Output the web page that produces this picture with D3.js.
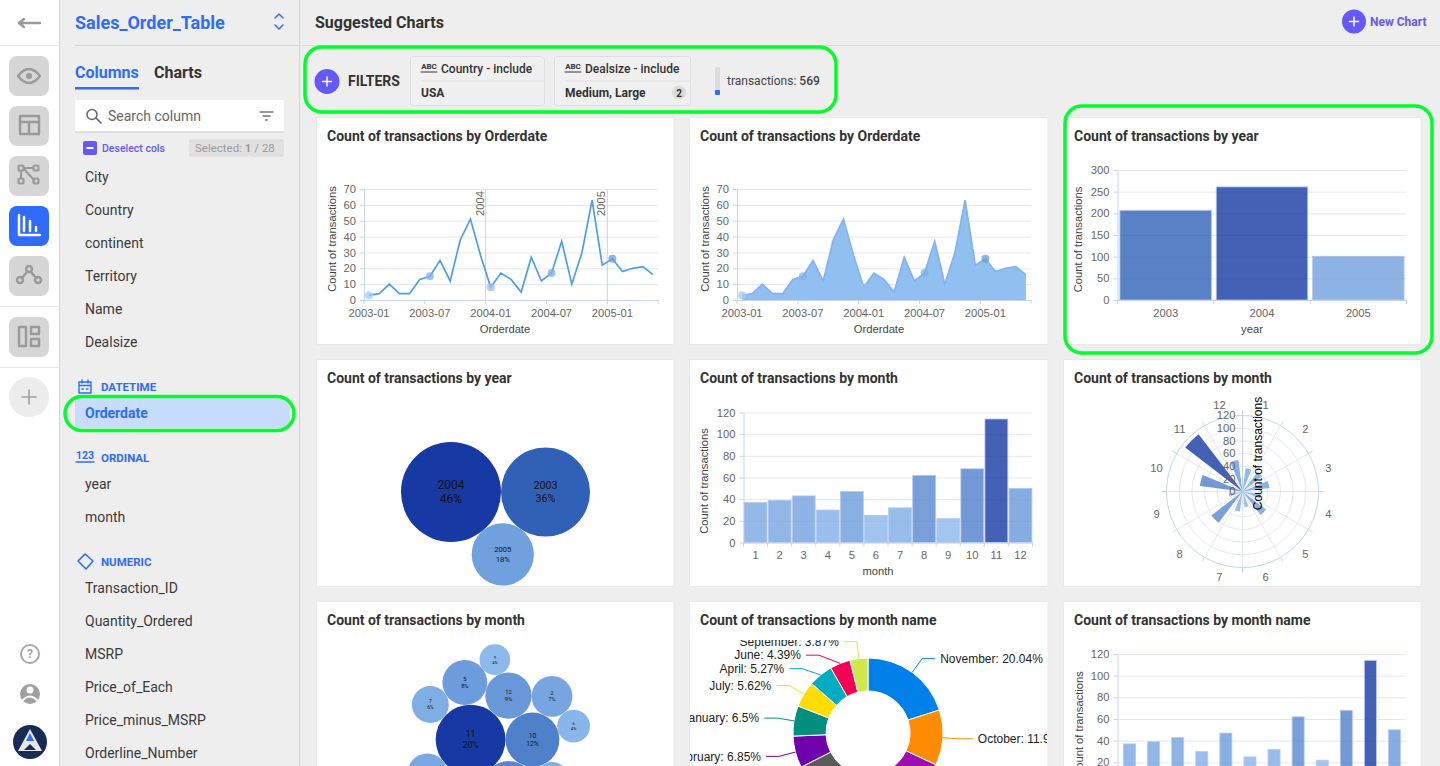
<!DOCTYPE html>
<html>
<head>
<meta charset="utf-8">
<title>Suggested Charts</title>
<script src="https://cdnjs.cloudflare.com/ajax/libs/d3/7.8.5/d3.min.js"></script>
<style>
  html, body { margin: 0; padding: 0; background: #eeeeee; overflow: hidden; }
  svg { display: block; }
  text { font-family: Roboto, sans-serif; }
  .chart text { font-family: "Liberation Sans", Arial, sans-serif; }
  .chart .title { font-family: Roboto, sans-serif; font-weight: 700; font-size: 14px; fill: #333; }
</style>
</head>
<body>
<script>
var WIDTH = 1440;
var HEIGHT = 766;
var BLUE = '#2f6bff';
var PURPLE = '#6458ff';
var GREEN = '#00ff2a';
var AXIS = '#c5d3ee';
var GRID = '#e4e7ee';

// chart values
var orderdates = ['2003-01','2003-02','2003-03','2003-04','2003-05','2003-06','2003-07','2003-08','2003-09','2003-10','2003-11','2003-12',
  '2004-01','2004-02','2004-03','2004-04','2004-05','2004-06','2004-07','2004-08','2004-09','2004-10','2004-11','2004-12',
  '2005-01','2005-02','2005-03','2005-04','2005-05'];
var orderdateCounts = [3,4,10,4,4,13,15,25,12,38,51,28,8,17,13,5,27,12,17,37,10,30,63,22,26,18,20,21,16];
var years = ['2003','2004','2005'];
var yearCounts = [207,261,101];
var yearPackOrder = [1,0,2];
var months = ['1','2','3','4','5','6','7','8','9','10','11','12'];
var monthCounts = [37,39,43,30,47,25,32,62,22,68,114,50];
var monthPackOrder = [10,9,11,7,4,2,1,3,6,0,8,5];
var monthNames = ['January','February','March','April','May','June','July','August','September','October','November','December'];
var monthColors = ['#008f7e','#6f00ab','#5a5a5a','#00acc1','#4caf50','#f50057','#ffdd00','#9c0fae','#d0e84b','#ff8c00','#0080e8','#e65100'];
var lineTicks = [0,10,20,30,40,50,60,70];
var yearTicks = [0,50,100,150,200,250,300];
var monthTicks = [0,20,40,60,80,100,120];

// sidebar text
var dimensionCols = ['City','Country','continent','Territory','Name','Dealsize'];
var ordinalCols = ['year','month'];
var numericCols = ['Transaction_ID','Quantity_Ordered','MSRP','Price_of_Each','Price_minus_MSRP','Orderline_Number'];

var heat = d3.scaleLinear().domain([0, 0.4, 0.8, 1]).range(['#a8d0fa', '#6e9edd', '#2f60b6', '#1739a3']);

var svg = d3.select('body').append('svg')
  .attr('width', WIDTH)
  .attr('height', HEIGHT);

var defs = svg.append('defs');

var addText = function(g, x, y, s, size, color, weight, anchor) {
  return g.append('text')
    .attr('x', x)
    .attr('y', y)
    .attr('dy', '.35em')
    .attr('font-size', size)
    .attr('fill', color)
    .attr('font-weight', weight || 400)
    .attr('text-anchor', anchor || 'start')
    .text(s);
};

var addPath = function(g, d, color, w) {
  return g.append('path')
    .attr('d', d)
    .attr('fill', 'none')
    .attr('stroke', color)
    .attr('stroke-width', w || 2)
    .attr('stroke-linecap', 'round')
    .attr('stroke-linejoin', 'round');
};

var addPlus = function(g, cx, cy, r, color) {
  g.append('circle').attr('cx', cx).attr('cy', cy).attr('r', r).attr('fill', color);
  addPath(g, 'M' + (cx - 4.5) + ' ' + cy + 'H' + (cx + 4.5) + 'M' + cx + ' ' + (cy - 4.5) + 'V' + (cy + 4.5), '#fff', 1.5);
};

/* ---------- page frame ---------- */
var drawFrame = function() {
  svg.append('rect').attr('width', WIDTH).attr('height', HEIGHT).attr('fill', '#eeeeee');
  svg.append('rect').attr('width', 59).attr('height', HEIGHT).attr('fill', '#fff');
  svg.append('line').attr('x1', 59.5).attr('x2', 59.5).attr('y2', HEIGHT).attr('stroke', '#d4d4d4');
  svg.append('line').attr('x1', 299.5).attr('x2', 299.5).attr('y2', HEIGHT).attr('stroke', '#d4d4d4');
  svg.append('line').attr('x1', 300).attr('x2', WIDTH).attr('y1', 45.5).attr('y2', 45.5).attr('stroke', '#dcdcdc');
  svg.append('line').attr('x1', 75).attr('x2', 299).attr('y1', 45.5).attr('y2', 45.5).attr('stroke', '#d4d4d4');
  [45.5, 306.5, 367.5].forEach(function(y) {
    svg.append('line').attr('x1', 0).attr('x2', 59).attr('y1', y).attr('y2', y).attr('stroke', '#e8e8e8');
  });
};

var drawRail = function() {
  var g = svg.append('g');
  var ico = '#9a9a9a';
  addPath(g, 'M19 23H40M19 23l5 -4M19 23l5 4', ico, 2.5);
  [56, 106, 156, 206, 256, 317].forEach(function(y, i) {
    g.append('rect').attr('x', 9).attr('y', y).attr('width', 40).attr('height', 40).attr('rx', 8)
      .attr('fill', i === 3 ? BLUE : '#d6d6d6');
  });
  // eye
  addPath(g, 'M18 76Q29 62 40 76Q29 90 18 76Z', ico, 2.5);
  g.append('circle').attr('cx', 29).attr('cy', 76).attr('r', 3).attr('fill', ico);
  // table
  addPath(g, 'M20 116H39V134H20ZM20 122H39M29 122V134', ico, 2.5);
  // nodes
  [[21, 168], [36, 168], [21, 181], [36, 181]].forEach(function(p) {
    g.append('rect').attr('x', p[0] - 2.5).attr('y', p[1] - 2.5).attr('width', 5).attr('height', 5).attr('rx', 1.5)
      .attr('fill', 'none').attr('stroke', ico).attr('stroke-width', 2.2);
  });
  addPath(g, 'M24 169L34 180M24 168H33M21 171V178', ico, 2.2);
  // bars, white on blue
  addPath(g, 'M19 215V235H40M24 217V231M30 221V231M36 227V231', '#fff', 2.5);
  // network
  g.append('circle').attr('cx', 29).attr('cy', 269).attr('r', 3).attr('fill', 'none').attr('stroke', ico).attr('stroke-width', 2.5);
  g.append('circle').attr('cx', 20).attr('cy', 280).attr('r', 3).attr('fill', 'none').attr('stroke', ico).attr('stroke-width', 2.5);
  g.append('circle').attr('cx', 38).attr('cy', 280).attr('r', 3).attr('fill', 'none').attr('stroke', ico).attr('stroke-width', 2.5);
  addPath(g, 'M27 272L22 278M31 272L36 278', ico, 2.5);
  // dashboard
  addPath(g, 'M19 327h7v19h-7zM31 327h8v7h-8zM31 339h8v7h-8z', ico, 2.5);
  // add
  g.append('circle').attr('cx', 29).attr('cy', 397).attr('r', 20).attr('fill', '#ececec');
  addPath(g, 'M22 397H36M29 390V404', '#a0a0a0', 1.6);
  // help, user, logo
  g.append('circle').attr('cx', 30).attr('cy', 654).attr('r', 9).attr('fill', 'none').attr('stroke', '#a8a8a8').attr('stroke-width', 2);
  addText(g, 30, 654, '?', 12, '#a0a0a0', 700, 'middle');
  g.append('circle').attr('cx', 30).attr('cy', 694).attr('r', 10).attr('fill', '#a0a0a0');
  g.append('circle').attr('cx', 30).attr('cy', 690).attr('r', 3.5).attr('fill', '#fff');
  addPath(g, 'M23 700Q30 693 37 700', '#fff', 2);
  g.append('circle').attr('cx', 30).attr('cy', 742).attr('r', 17).attr('fill', '#172b55');
  g.append('path').attr('d', 'M30 729L42 751H18Z').attr('fill', '#e8e8e8');
  g.append('path').attr('d', 'M30 733L34 741H26Z').attr('fill', BLUE);
  g.append('path').attr('d', 'M24 750L30 744L36 750Z').attr('fill', '#172b55');
};

var drawColumn = function(g, list, y0) {
  list.forEach(function(d, i) {
    addText(g, 85, y0 + 33 * i, d, 14, '#3a3a3a');
  });
};

var drawSidebar = function() {
  var g = svg.append('g');
  addText(g, 75, 23, 'Sales_Order_Table', 18, BLUE, 700);
  addPath(g, 'M275 18l4 -4l4 4M275 25l4 4l4 -4', BLUE, 1.5);
  addText(g, 75, 72, 'Columns', 16, BLUE, 700);
  addText(g, 154, 72, 'Charts', 16, '#333', 700);
  g.append('rect').attr('x', 75).attr('y', 87).attr('width', 64).attr('height', 2.5).attr('fill', BLUE);

  g.append('rect').attr('x', 75).attr('y', 100).attr('width', 209).attr('height', 32).attr('fill', '#fff');
  g.append('rect').attr('x', 75).attr('y', 131.5).attr('width', 209).attr('height', 1).attr('fill', '#c8c8c8');
  g.append('circle').attr('cx', 92).attr('cy', 114.5).attr('r', 5).attr('fill', 'none').attr('stroke', '#666').attr('stroke-width', 1.5);
  addPath(g, 'M96 118L101 123', '#666', 1.7);
  addText(g, 108, 116, 'Search column', 14, '#666');
  addPath(g, 'M260 112H273M263 116H270M265.500 120H267.500', '#777', 1.3);

  g.append('rect').attr('x', 83).attr('y', 141).attr('width', 14).attr('height', 14).attr('rx', 2).attr('fill', PURPLE);
  g.append('rect').attr('x', 86.500).attr('y', 147).attr('width', 7).attr('height', 2).attr('fill', '#fff');
  addText(g, 102, 148, 'Deselect cols', 10.500, PURPLE, 500);
  g.append('rect').attr('x', 189).attr('y', 139).attr('width', 95).attr('height', 18).attr('rx', 3).attr('fill', '#e1e1e1');
  var sel = addText(g, 195, 148, 'Selected: ', 11.500, '#9a9a9a');
  sel.append('tspan').attr('font-weight', 700).text('1');
  sel.append('tspan').text(' / 28');

  drawColumn(g, dimensionCols, 177);

  // datetime
  addPath(g, 'M79 382h12v11h-12zM79 385.500H91M82 380v3M88 380v3M82 389h1.500M86.500 389h1.500', BLUE, 1.4);
  addText(g, 101, 387, 'DATETIME', 11.500, BLUE, 700);
  g.append('rect').attr('x', 75).attr('y', 398).attr('width', 215).attr('height', 30).attr('fill', '#c8dcfb');
  addText(g, 85, 413, 'Orderdate', 14, BLUE, 700);
  g.append('rect').attr('x', 65).attr('y', 396.500).attr('width', 229).attr('height', 34).attr('rx', 17)
    .attr('fill', 'none').attr('stroke', GREEN).attr('stroke-width', 3.5);

  // ordinal
  addText(g, 85, 455.500, '123', 10.500, BLUE, 700, 'middle');
  addPath(g, 'M76 462H94', BLUE, 1.3);
  addText(g, 101, 458, 'ORDINAL', 11.500, BLUE, 700);
  drawColumn(g, ordinalCols, 484);

  // numeric
  addPath(g, 'M85 554L93 561L86 569L78 561Z', BLUE, 1.6);
  addText(g, 101, 562, 'NUMERIC', 11.500, BLUE, 700);
  drawColumn(g, numericCols, 588);
};

var drawAbc = function(g, x) {
  addText(g, x + 8, 66.500, 'ABC', 8, '#333', 700, 'middle');
  addPath(g, 'M' + x + ' 72H' + (x + 16), '#333', 1);
};

var drawHeader = function() {
  var g = svg.append('g');
  addText(g, 315, 22, 'Suggested Charts', 16, '#333', 700);
  addPlus(g, 1354, 21.500, 12, PURPLE);
  addText(g, 1370, 22, 'New Chart', 12, PURPLE, 700);

  addPlus(g, 327, 81.500, 12.500, PURPLE);
  addText(g, 348, 81, 'FILTERS', 14, '#333', 700);

  [[410, 134], [554, 136]].forEach(function(c) {
    g.append('rect').attr('x', c[0] + .5).attr('y', 56.500).attr('width', c[1]).attr('height', 49).attr('rx', 3)
      .attr('fill', '#f0f0f0').attr('stroke', '#dedede');
    g.append('line').attr('x1', c[0] + 11).attr('x2', c[0] + c[1]).attr('y1', 81).attr('y2', 81).attr('stroke', '#dedede');
  });
  drawAbc(g, 421);
  addText(g, 441, 69, 'Country - include', 12, '#333', 500);
  addText(g, 421, 93, 'USA', 12, '#333', 700);
  drawAbc(g, 565);
  addText(g, 585, 69, 'Dealsize - include', 12, '#333', 500);
  addText(g, 565, 93, 'Medium, Large', 12, '#333', 700);
  g.append('circle').attr('cx', 679).attr('cy', 92.500).attr('r', 7).attr('fill', '#dcdcdc');
  addText(g, 679, 93, '2', 10, '#333', 700, 'middle');

  g.append('rect').attr('x', 715).attr('y', 67).attr('width', 5).attr('height', 28).attr('rx', 1).attr('fill', '#dcdcdc');
  g.append('rect').attr('x', 715).attr('y', 90).attr('width', 5).attr('height', 5).attr('rx', 1).attr('fill', BLUE);
  var t = addText(g, 727, 81, 'transactions: ', 12, '#444');
  t.append('tspan').attr('font-weight', 500).text('569');
};

/* ---------- cards and chart pieces ---------- */
var drawCard = function(x, y, w, h, title) {
  var g = svg.append('g').attr('class', 'chart');
  g.append('rect').attr('x', x).attr('y', y).attr('width', w).attr('height', h)
    .attr('fill', '#fff').attr('stroke', '#e9e9e9').attr('stroke-width', 1);
  g.append('text').attr('class', 'title').attr('x', x + 10.5).attr('y', y + 18.5).attr('dy', '.35em').text(title);
  return g;
};

var drawYAxis = function(g, y, x0, x1, ticks, nameX, nameY) {
  var grid = g.append('g').attr('transform', 'translate(' + x0 + ',0)')
    .call(d3.axisLeft(y).tickValues(ticks).tickSize(x0 - x1).tickFormat('').tickSizeOuter(0));
  grid.select('.domain').remove();
  grid.selectAll('line').attr('stroke', GRID);

  var ax = g.append('g').attr('transform', 'translate(' + x0 + ',0)')
    .call(d3.axisLeft(y).tickValues(ticks).tickSize(4).tickPadding(4).tickSizeOuter(0));
  ax.select('.domain').attr('stroke', AXIS);
  ax.selectAll('line').attr('stroke', AXIS);
  ax.selectAll('text').attr('font-size', 11.200).attr('fill', '#666').attr('font-family', '"Liberation Sans", Arial, sans-serif');

  addText(g, 0, 0, 'Count of transactions', 11.200, '#444', 400, 'middle')
    .attr('transform', 'translate(' + nameX + ',' + nameY + ') rotate(-90)');
};

var drawXAxis = function(g, x, y0, labels, edges, name, nameX, nameY) {
  var ax = g.append('g').attr('transform', 'translate(0,' + y0 + ')')
    .call(d3.axisBottom(x).tickValues(labels).tickSize(0).tickPadding(9).tickSizeOuter(0));
  ax.select('.domain').attr('stroke', AXIS);
  ax.selectAll('text').attr('font-size', 11.200).attr('fill', '#666').attr('font-family', '"Liberation Sans", Arial, sans-serif');
  g.selectAll(null).data(edges).enter().append('line')
    .attr('x1', function(d) { return d; })
    .attr('x2', function(d) { return d; })
    .attr('y1', y0)
    .attr('y2', y0 + 4)
    .attr('stroke', AXIS);
  if (name) {
    addText(g, nameX, nameY, name, 11.200, '#444', 400, 'middle');
  }
};

var drawBars = function(card, f) {
  var x = d3.scaleBand().domain(f.cats).range([f.x0, f.x1]).padding(f.pad).paddingOuter(f.pad / 2);
  var y = d3.scaleLinear().domain([0, f.ticks[f.ticks.length - 1]]).range([f.y0, f.y1]);
  var maxV = d3.max(f.vals);
  drawYAxis(card, y, f.x0, f.x1, f.ticks, f.nameX, f.nameY);
  card.selectAll(null).data(f.cats).enter().append('rect')
    .attr('x', function(d) { return x(d); })
    .attr('y', function(d, i) { return y(f.vals[i]); })
    .attr('width', x.bandwidth())
    .attr('height', function(d, i) { return y(0) - y(f.vals[i]); })
    .attr('fill', function(d, i) { return heat(f.vals[i] / maxV); })
    .attr('fill-opacity', .8)
    .attr('stroke', '#b5c9ee')
    .attr('stroke-width', .8);
  var step = x.step();
  var edges = f.cats.map(function(d) { return x(d) + x.bandwidth() / 2 - step / 2; }).concat([f.x1]);
  drawXAxis(card, x, f.y0, f.cats, edges, f.name, f.axisNameX, f.y0 + 29);
};

var drawLineChart = function(card, dx, withArea) {
  var x0 = 364 + dx;
  var x1 = 658 + dx;
  var x = d3.scaleBand().domain(orderdates).range([x0, x1]);
  var y = d3.scaleLinear().domain([0, 70]).range([300, 189]);
  var cx = function(d, i) { return x(orderdates[i]) + x.bandwidth() / 2; };
  var cy = function(d) { return y(d); };
  var sixth = orderdates.filter(function(d, i) { return i % 6 === 0; });

  drawYAxis(card, y, x0, x1, lineTicks, 332 + dx, 239);

  if (withArea) {
    card.append('path').datum(orderdateCounts)
      .attr('d', d3.area().x(cx).y0(y(0)).y1(cy))
      .attr('fill', '#90bff0');
  } else {
    // year marks, only the plain line chart has them
    var marks = sixth.filter(function(d) { return d.slice(5) === '01' && d !== '2003-01'; });
    card.selectAll(null).data(marks).enter().append('line')
      .attr('x1', function(d) { return x(d); })
      .attr('x2', function(d) { return x(d); })
      .attr('y1', y(70))
      .attr('y2', y(0))
      .attr('stroke', AXIS);
    marks.forEach(function(d) {
      addText(card, 0, 0, d.slice(0, 4), 11.200, '#666', 400, 'end')
        .attr('transform', 'translate(' + (x(d) - 6) + ',' + y(70) + ') rotate(-90) translate(-27,0)')
        .attr('text-anchor', 'start');
    });
  }
  card.append('path').datum(orderdateCounts)
    .attr('d', d3.line().x(cx).y(cy))
    .attr('fill', 'none')
    .attr('stroke', withArea ? '#7fb4ee' : '#4e9cf0')
    .attr('stroke-width', 1.7);

  var dots = orderdates.map(function(d, i) { return { d: d, v: orderdateCounts[i] }; })
    .filter(function(o) { return sixth.indexOf(o.d) >= 0; });
  card.selectAll(null).data(dots).enter().append('circle')
    .attr('cx', function(o) { return x(o.d) + x.bandwidth() / 2; })
    .attr('cy', function(o) { return y(o.v); })
    .attr('r', 4)
    .attr('fill', function(o) { return heat(o.v / 60); })
    .attr('fill-opacity', .75);

  var edges = sixth.map(function(d) { return x(d); }).concat([x1]);
  drawXAxis(card, x, 300, sixth, edges, 'Orderdate', 505 + dx + (dx ? 1 : 0), 329);
};

var drawBubbles = function(card, vals, labels, order, k, cx, cy, flip) {
  var total = d3.sum(vals);
  var maxV = d3.max(vals);
  var font = d3.scaleLinear().domain([15, 50]).range([4, 12]);
  var nodes = order.map(function(i) {
    return { r: k * Math.sqrt(vals[i]), v: vals[i], label: labels[i] };
  });
  d3.packSiblings(nodes);
  nodes.forEach(function(n) {
    var px = cx + n.x;
    var py = cy + flip * n.y;
    card.append('circle').attr('cx', px).attr('cy', py).attr('r', n.r).attr('fill', heat(n.v / maxV));
    var s = font(n.r);
    addText(card, px, py - s * .6, n.label, s, '#111', 400, 'middle').style('font-family', 'Roboto, sans-serif');
    addText(card, px, py + s * .6, Math.round(n.v / total * 100) + '%', s, '#111', 400, 'middle').style('font-family', 'Roboto, sans-serif');
  });
};

var drawPolar = function(card, cx, cy) {
  var R = 76;
  var g = card.append('g').attr('transform', 'translate(' + cx + ',' + cy + ')');
  var r = d3.scaleLinear().domain([0, 120]).range([0, R]);
  var band = 2 * Math.PI / months.length;
  var maxV = d3.max(monthCounts);

  g.selectAll(null).data(monthTicks.slice(1, -1)).enter().append('circle')
    .attr('r', function(d) { return r(d); })
    .attr('fill', 'none')
    .attr('stroke', GRID);
  g.append('circle').attr('r', R).attr('fill', 'none').attr('stroke', AXIS);
  g.selectAll(null).data(months).enter().append('line')
    .attr('x1', 0).attr('y1', 0)
    .attr('x2', function(d, i) { return R * Math.sin(i * band); })
    .attr('y2', function(d, i) { return -R * Math.cos(i * band); })
    .attr('stroke', GRID);
  g.selectAll(null).data(months).enter().append('line')
    .attr('x1', function(d, i) { return R * Math.sin(i * band); })
    .attr('y1', function(d, i) { return -R * Math.cos(i * band); })
    .attr('x2', function(d, i) { return (R + 5) * Math.sin(i * band); })
    .attr('y2', function(d, i) { return -(R + 5) * Math.cos(i * band); })
    .attr('stroke', AXIS);

  var arc = d3.arc().innerRadius(0);
  g.selectAll(null).data(monthCounts).enter().append('path')
    .attr('d', function(d, i) {
      var mid = (i + .5) * band;
      return arc({ outerRadius: r(d), startAngle: mid - band / 4, endAngle: mid + band / 4 });
    })
    .attr('fill', function(d) { return heat(d / maxV); })
    .attr('fill-opacity', .8);

  g.append('line').attr('y2', -R).attr('stroke', AXIS);
  monthTicks.forEach(function(d) {
    addText(g, -7, -r(d), d, 11.200, '#666', 400, 'end');
  });
  months.forEach(function(d, i) {
    var a = (i + .5) * band;
    addText(g, (R + 13) * Math.sin(a), -(R + 13) * Math.cos(a), d, 11.200, '#666', 400, 'middle');
  });
  addText(g, 0, 0, 'Count of transactions', 12, '#000', 400, 'middle')
    .attr('transform', 'translate(15,-38) rotate(-90)');
};

var drawDonut = function(card, cx, cy) {
  var total = d3.sum(monthCounts);
  var rows = monthNames.map(function(d, i) {
    return { name: d, v: monthCounts[i], color: monthColors[i] };
  });
  var pie = d3.pie().value(function(d) { return d.v; }).sort(function(a, b) { return b.v - a.v; });
  var arcs = pie(rows).sort(function(a, b) { return a.startAngle - b.startAngle; });
  var arc = d3.arc().innerRadius(42).outerRadius(75);

  defs.append('clipPath').attr('id', 'donut-clip').append('rect')
    .attr('x', 690).attr('y', 640).attr('width', 357).attr('height', 126);
  var g = card.append('g').attr('clip-path', 'url(#donut-clip)')
    .append('g').attr('transform', 'translate(' + cx + ',' + cy + ')');

  g.selectAll(null).data(arcs).enter().append('path')
    .attr('d', arc)
    .attr('fill', function(d) { return d.data.color; })
    .attr('stroke', '#fff')
    .attr('stroke-width', 1);

  // label rows, pushed apart when they get too close, going from the top down on each side
  var lead = 92;
  arcs.forEach(function(d) {
    d.mid = (d.startAngle + d.endAngle) / 2;
    d.side = Math.sin(d.mid) < 0 ? -1 : 1;
  });
  var spread = function(list) {
    var prev = -Infinity;
    list.forEach(function(d) {
      d.ly = Math.max(-lead * Math.cos(d.mid), prev + 13.5);
      prev = d.ly;
    });
  };
  spread(arcs.filter(function(d) { return d.side > 0; }));
  spread(arcs.filter(function(d) { return d.side < 0; }).reverse());

  arcs.forEach(function(d) {
    var dy = Math.min(Math.abs(d.ly), lead);
    var px = d.side * Math.sqrt(lead * lead - dy * dy);
    var ex = px + d.side * 13;
    var line = [[75 * Math.sin(d.mid), -75 * Math.cos(d.mid)], [px, d.ly], [ex, d.ly]];
    g.append('path').attr('d', d3.line()(line)).attr('fill', 'none').attr('stroke', d.data.color).attr('stroke-width', 1);
    var pct = Math.round(d.data.v / total * 10000) / 100;
    addText(g, ex + d.side * 5, d.ly, d.data.name + ': ' + pct + '%', 12, '#222', 400, d.side < 0 ? 'end' : 'start');
  });
};

/* ---------- page ---------- */
drawFrame();
drawRail();
drawSidebar();
drawHeader();

var col = [316.5, 689.5, 1063.5];
var cardW = [357.5, 358.5, 357.5];

var c1 = drawCard(col[0], 117.5, cardW[0], 227, 'Count of transactions by Orderdate');
drawLineChart(c1, 0, false);

var c2 = drawCard(col[1], 117.5, cardW[1], 227, 'Count of transactions by Orderdate');
drawLineChart(c2, 373, true);

var c3 = drawCard(col[2], 117.5, cardW[2], 227, 'Count of transactions by year');
drawBars(c3, { cats: years, vals: yearCounts, ticks: yearTicks, x0: 1117.5, x1: 1406.5, y0: 300, y1: 170, pad: .05, nameX: 1078, nameY: 239.5, name: 'year', axisNameX: 1252 });

var c4 = drawCard(col[0], 359.5, cardW[0], 227, 'Count of transactions by year');
drawBubbles(c4, yearCounts, years, yearPackOrder, 3.095, 495.5, 492, 1);

var c5 = drawCard(col[1], 359.5, cardW[1], 227, 'Count of transactions by month');
drawBars(c5, { cats: months, vals: monthCounts, ticks: monthTicks, x0: 743.5, x1: 1032.5, y0: 542.5, y1: 412.5, pad: .05, nameX: 704, nameY: 481, name: 'month', axisNameX: 878 });

var c6 = drawCard(col[2], 359.5, cardW[2], 227, 'Count of transactions by month');
drawPolar(c6, 1242.5, 491.5);

var c7 = drawCard(col[0], 601.5, cardW[0], 227, 'Count of transactions by month');
drawBubbles(c7, monthCounts, months, monthPackOrder, 3.27, 495.5, 740, -1);

var c8 = drawCard(col[1], 601.5, cardW[1], 227, 'Count of transactions by month name');
drawDonut(c8, 868, 733);

var c9 = drawCard(col[2], 601.5, cardW[2], 227, 'Count of transactions by month name');
drawBars(c9, { cats: monthNames, vals: monthCounts, ticks: monthTicks, x0: 1117.5, x1: 1406.5, y0: 784, y1: 654, pad: .5, nameX: 1079, nameY: 724, name: '' });

// green highlights sit above the cards
var marksG = svg.append('g').attr('fill', 'none').attr('stroke', GREEN).attr('stroke-width', 3.5);
marksG.append('rect').attr('x', 305).attr('y', 47).attr('width', 531).attr('height', 65).attr('rx', 17);
marksG.append('rect').attr('x', 1065).attr('y', 106).attr('width', 367).attr('height', 247).attr('rx', 17);

// anything that landed fully below the window is not part of the picture
svg.selectAll('text').filter(function() {
  return this.getBoundingClientRect().top >= HEIGHT;
}).remove();
</script>
</body>
</html>
